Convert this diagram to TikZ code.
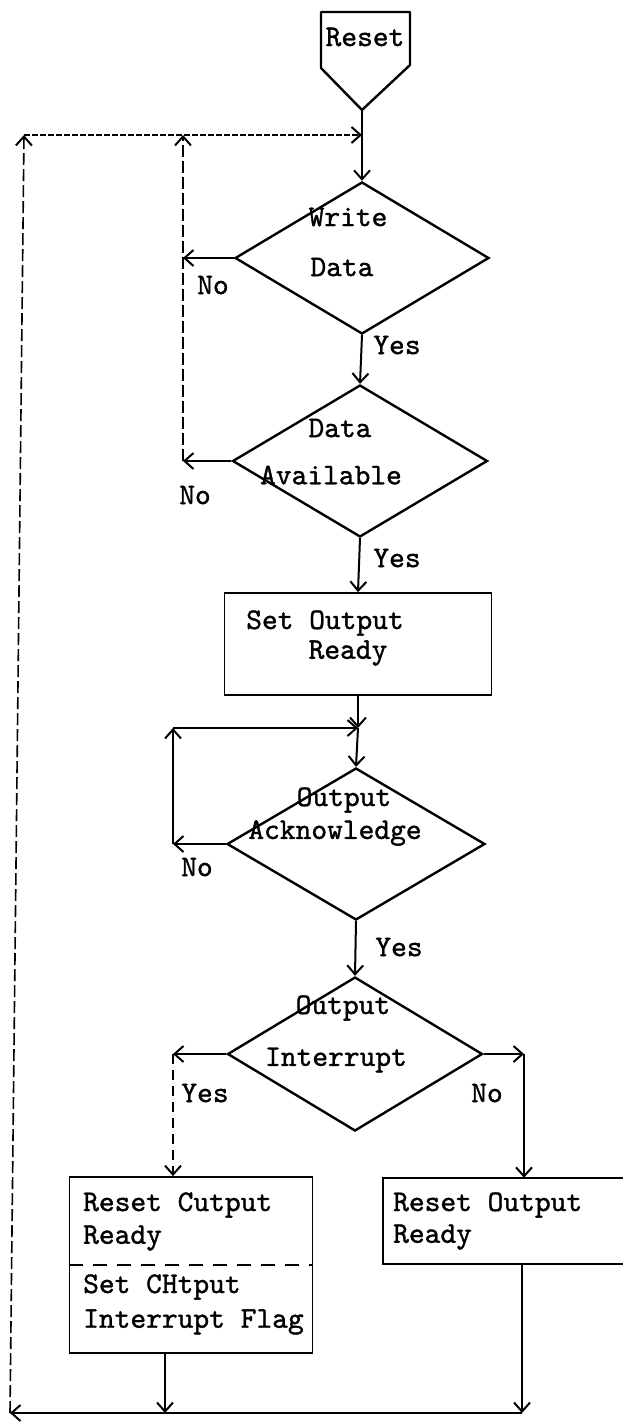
\documentclass[tikz,border=0pt]{standalone}
\usepackage{fontspec}
\newfontfamily\twfont{lmmono10-regular.otf}[FakeBold=1.2]
\usetikzlibrary{shapes.geometric,arrows.meta}
\begin{document}
\begin{tikzpicture}[x=1pt,y=-1pt,
  dec/.style={draw, diamond, line width=2.4pt, inner sep=0pt, minimum width=254pt, minimum height=152pt},
  procbox/.style={draw, line width=1.8pt, inner sep=0pt},
  lbl/.style={font=\fontsize{30}{34}\selectfont\twfont, inner sep=0pt},
  tip/.style={-{Straight Barb[length=9pt,width=16pt,line width=2pt]}},
  flow/.style={line width=2pt, tip},
  back/.style={line width=1.6pt, dash pattern=on 12pt off 4pt, tip},
  backdense/.style={line width=1.6pt, dash pattern=on 6pt off 2pt, tip}
]
\useasboundingbox (0,0) rectangle (623,1427);

% start connector
\draw[line width=2.4pt, line join=round] (321,12) -- (410,12) -- (410,65) -- (362,110) -- (321,68) -- cycle;
\coordinate (rs) at (362,110);
\node[lbl] (treset) at (365,37) {Reset};

% decisions and boxes
\node[dec] (wd) at (362,258) {};
\node[dec, minimum width=255pt] (da) at (360,461) {};
\node[procbox, minimum width=267pt, minimum height=102pt] (sob) at (358,644) {};
\node[dec, minimum width=258pt] (oa) at (356,844) {};
\node[dec, minimum width=255pt, minimum height=154pt] (oi) at (355,1054) {};
\node[procbox, minimum width=243pt, minimum height=176pt] (lb) at (191,1265) {};
\node[inner sep=0pt, minimum width=240pt, minimum height=86pt] (rb) at (503,1221) {};
\draw[line width=1.8pt] (rb.north east) -- (rb.north west) -- (rb.south west) -- (rb.south east);
\draw[line width=1.8pt, dash pattern=on 14pt off 10pt] (lb.west) -- (lb.east);

% coordinates
\coordinate (j1) at (362,135);
\coordinate (t0) at (24,135);
\coordinate (t1) at (183,135);
\coordinate (c1) at (183,258);
\coordinate (c2) at (183,461);
\coordinate (j2) at (358,728);
\coordinate (t3) at (173,728);
\coordinate (c3) at (173,844);
\coordinate (y1) at (173,1054);
\coordinate (n1) at (524,1054);
\coordinate (b1) at (165,1413);
\coordinate (b2) at (522,1413);
\coordinate (bl) at (10,1413);

% main flow
\draw[flow] (rs) -- (wd.north);
\draw[flow] (wd.south) -- (da.north);
\draw[flow] (da.south) -- (sob.north);
\draw[flow] (sob.south) -- (j2);
\draw[flow] (j2) -- (oa.north);
\draw[flow] (oa.south) -- (oi.north);

% write data / data available loop
\draw[flow] (wd.west) -- (c1);
\draw[flow] (da.west) -- (c2);
\draw[back] (c2) -- (t1);
\draw[backdense] (t0) -- (j1);

% acknowledge loop
\draw[flow] (oa.west) -- (c3);
\draw[flow] (c3) -- (t3);
\draw[flow] (t3) -- (j2);

% interrupt branches
\draw[flow] (oi.west) -- (y1);
\draw[line width=1.6pt, dash pattern=on 10pt off 6pt, tip] (y1) -- (lb.north west -| y1);
\draw[flow] (oi.east) -- (n1);
\draw[flow] (n1) -- (rb.north west -| n1);

% return path
\draw[flow] (lb.south west -| b1) -- (b1);
\draw[flow] (rb.south west -| b2) -- (b2);
\draw[flow] (b2) -- (bl);
\draw[back] (bl) -- (t0);

% labels
\node[lbl] (l1) at (348,217) {Write};
\node[lbl] (l2) at (342,267) {Data};
\node[lbl] (l3) at (213,285) {No};
\node[lbl] (l4) at (397,345) {Yes};
\node[lbl] (l5) at (340,428) {Data};
\node[lbl] (l6) at (331,475) {Available};
\node[lbl] (l7) at (195,495) {No};
\node[lbl] (l8) at (397,558) {Yes};
\node[lbl] (l9) at (325,623) {Set Output};
\node[lbl] (l10) at (348,653) {Ready};
\node[lbl] (l11) at (344,800) {Output};
\node[lbl] (l12) at (335,833) {Acknowledge};
\node[lbl] (l13) at (197,867) {No};
\node[lbl] (l14) at (399,947) {Yes};
\node[lbl] (l15) at (343,1008) {Output};
\node[lbl] (l16) at (336,1060) {Interrupt};
\node[lbl] (l17) at (205,1093) {Yes};
\node[lbl] (l18) at (487,1093) {No};
\node[lbl, anchor=west] (l19) at (83,1205) {Reset Cutput};
\node[lbl, anchor=west] (l20) at (83,1238) {Ready};
\node[lbl, anchor=west] (l21) at (83,1287) {Set CHtput};
\node[lbl, anchor=west] (l22) at (83,1322) {Interrupt Flag};
\node[lbl, anchor=west] (l23) at (393,1205) {Reset Output};
\node[lbl, anchor=west] (l24) at (393,1237) {Ready};
\end{tikzpicture}
\end{document}
